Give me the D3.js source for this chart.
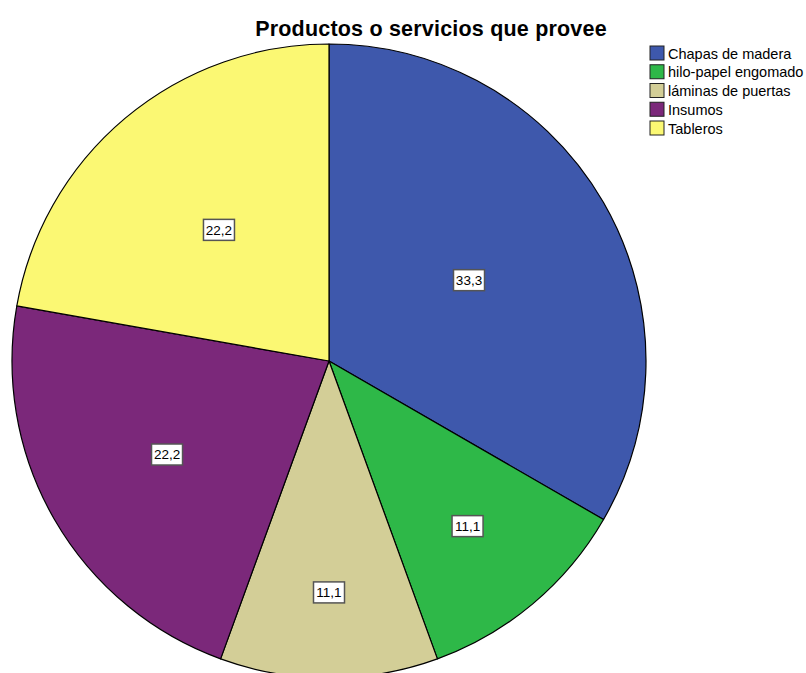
<!DOCTYPE html>
<html>
<head>
<meta charset="utf-8">
<script src="https://cdn.jsdelivr.net/npm/d3@7"></script>
<style>
  html, body { margin: 0; padding: 0; background: #fff; }
  svg { display: block; }
  text { font-family: "Liberation Sans", Arial, sans-serif; }
</style>
</head>
<body>
<svg id="chart" width="806" height="673"></svg>
<script>
// Share of suppliers by product / service
const categories = ["Chapas de madera", "hilo-papel engomado", "láminas de puertas", "Insumos", "Tableros"];
const percents = [33.3, 11.1, 11.1, 22.2, 22.2];
const colors = ["#3E58AC", "#2EB848", "#D3CE97", "#7B287A", "#FBF873"];
// distance of each value label from the centre, as a fraction of the radius
const labelRadiusFrac = [0.51, 0.68, 0.73, 0.59, 0.54];

const svg = d3.select("#chart");
const cx = 329, cy = 361, r = 317;

svg.append("text")
  .attr("x", 431).attr("y", 36)
  .attr("text-anchor", "middle")
  .attr("font-size", 21.5).attr("font-weight", "bold")
  .attr("letter-spacing", 0.2)
  .attr("fill", "#000")
  .text("Productos o servicios que provee");

const data = categories.map((c, i) => ({ cat: c, value: percents[i], color: colors[i], lr: labelRadiusFrac[i] }));

const pie = d3.pie().value(d => d.value).sort(null);
const arcs = pie(data);
const arc = d3.arc().innerRadius(0).outerRadius(r);

const g = svg.append("g").attr("transform", `translate(${cx},${cy})`);

g.selectAll("path.slice")
  .data(arcs)
  .join("path")
  .attr("class", "slice")
  .attr("d", arc)
  .attr("fill", d => d.data.color)
  .attr("stroke", "#000")
  .attr("stroke-width", 1.2)
  .attr("stroke-linejoin", "round");

const fmt = v => d3.format(".1f")(v).replace(".", ",");

const labels = g.selectAll("g.lbl")
  .data(arcs)
  .join("g")
  .attr("class", "lbl")
  .attr("transform", d => {
    const a = (d.startAngle + d.endAngle) / 2;
    const rr = r * d.data.lr;
    return `translate(${Math.sin(a) * rr},${-Math.cos(a) * rr})`;
  });

labels.append("rect")
  .attr("x", -15.5).attr("y", -10.5)
  .attr("width", 31).attr("height", 21)
  .attr("fill", "#fff")
  .attr("stroke", "#555")
  .attr("stroke-width", 1.5);

labels.append("text")
  .attr("text-anchor", "middle")
  .attr("dy", "0.36em")
  .attr("font-size", 13.5)
  .attr("fill", "#000")
  .text(d => fmt(d.data.value));

// Legend
const legend = svg.append("g").attr("transform", "translate(650,46)");
const rows = legend.selectAll("g.row")
  .data(data)
  .join("g")
  .attr("class", "row")
  .attr("transform", (d, i) => `translate(0,${i * 18.75})`);

rows.append("rect")
  .attr("width", 14).attr("height", 14)
  .attr("fill", d => d.color)
  .attr("stroke", "#222")
  .attr("stroke-width", 1);

rows.append("text")
  .attr("x", 18).attr("y", 7.5)
  .attr("dy", "0.36em")
  .attr("font-size", 14.5)
  .attr("fill", "#000")
  .text(d => d.cat);
</script>
</body>
</html>
